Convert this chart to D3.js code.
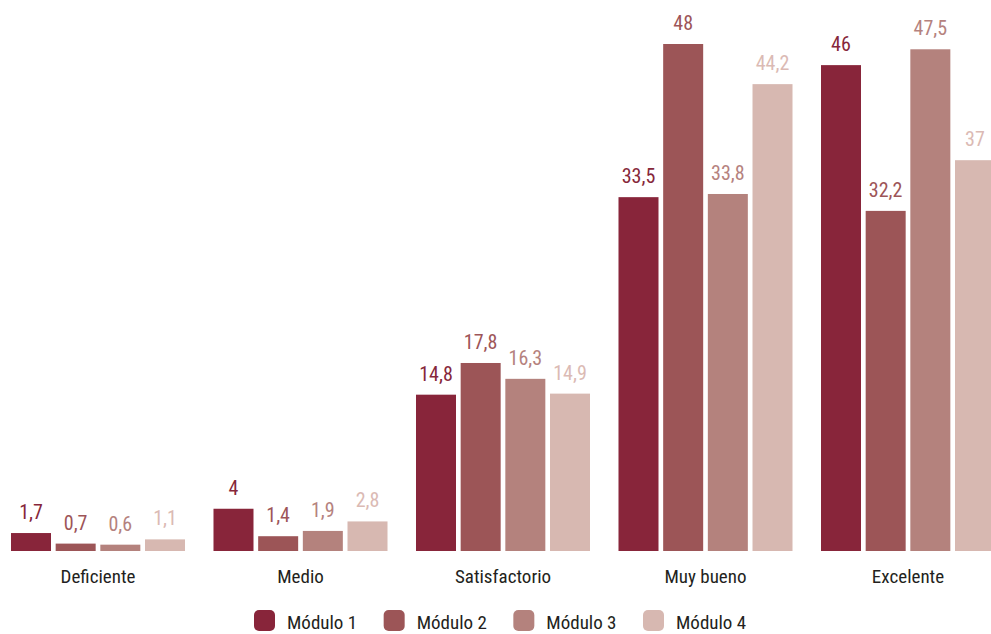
<!DOCTYPE html>
<html>
<head>
<meta charset="utf-8">
<script src="https://cdn.jsdelivr.net/npm/d3@7"></script>
<style>
  html, body { margin: 0; padding: 0; background: #fff; overflow: hidden; }
  svg { display: block; }
  text { font-family: "Liberation Sans Narrow", "Roboto Condensed", "Arial Narrow", sans-serif; }
</style>
</head>
<body>
<script>
// Categories and per-module percentages
const categories = ["Deficiente", "Medio", "Satisfactorio", "Muy bueno", "Excelente"];
const seriesNames = ["Módulo 1", "Módulo 2", "Módulo 3", "Módulo 4"];
const modulo1 = [1.7, 4, 14.8, 33.5, 46];
const modulo2 = [0.7, 1.4, 17.8, 48, 32.2];
const modulo3 = [0.6, 1.9, 16.3, 33.8, 47.5];
const modulo4 = [1.1, 2.8, 14.9, 44.2, 37];
const seriesValues = [modulo1, modulo2, modulo3, modulo4];

const barColors = ["#88253a", "#9c5557", "#b4827d", "#d7b8b1"];
const labelColors = ["#86273a", "#9d5558", "#b5827e", "#dbbab4"];

const W = 991, H = 634;
const svg = d3.select("body").append("svg").attr("width", W).attr("height", H);

const rows = categories.map((c, i) => ({
  cat: c,
  vals: seriesNames.map((s, j) => ({ key: s, idx: j, v: seriesValues[j][i] }))
}));

const x0 = d3.scaleBand().domain(categories).range([-17.5, 1023.5]).padding(0.1407);
const x1 = d3.scaleBand().domain(seriesNames).range([0, x0.bandwidth()]).paddingInner(0.1045).paddingOuter(0);
const y = d3.scaleLinear().domain([0, 48]).range([551, 44]);

const fmt = v => String(v).replace(".", ",");

const g = svg.selectAll("g.cat").data(rows).join("g")
  .attr("class", "cat")
  .attr("transform", d => `translate(${x0(d.cat)},0)`);

g.selectAll("rect").data(d => d.vals).join("rect")
  .attr("x", d => x1(d.key))
  .attr("y", d => y(d.v))
  .attr("width", x1.bandwidth())
  .attr("height", d => y(0) - y(d.v))
  .attr("fill", d => barColors[d.idx]);

g.selectAll("text.val").data(d => d.vals).join("text")
  .attr("class", "val")
  .attr("x", d => x1(d.key) + x1.bandwidth() / 2)
  .attr("y", d => y(d.v) - 14)
  .attr("text-anchor", "middle")
  .attr("font-size", 20)
  .attr("fill", d => labelColors[d.idx])
  .text(d => fmt(d.v));

// Category axis labels
const xAxis = d3.axisBottom(x0).tickSize(0).tickPadding(0);
const ax = svg.append("g").attr("transform", "translate(0,551)").call(xAxis);
ax.select(".domain").remove();
ax.selectAll("text")
  .attr("dy", null)
  .attr("y", 32)
  .attr("font-size", 19)
  .attr("fill", "#231f20")
  .style("font-family", "\"Liberation Sans Narrow\", \"Roboto Condensed\", sans-serif");

// Legend
const legendX = d3.scalePoint().domain(seriesNames).range([254, 643]);
const lg = svg.selectAll("g.leg").data(seriesNames).join("g")
  .attr("class", "leg")
  .attr("transform", d => `translate(${legendX(d)},610)`);
lg.append("rect")
  .attr("width", 21).attr("height", 21).attr("rx", 5).attr("ry", 5)
  .attr("fill", (d, i) => barColors[i]);
lg.append("text")
  .attr("x", 33).attr("y", 19)
  .attr("font-size", 19)
  .attr("fill", "#231f20")
  .text(d => d);
</script>
</body>
</html>
